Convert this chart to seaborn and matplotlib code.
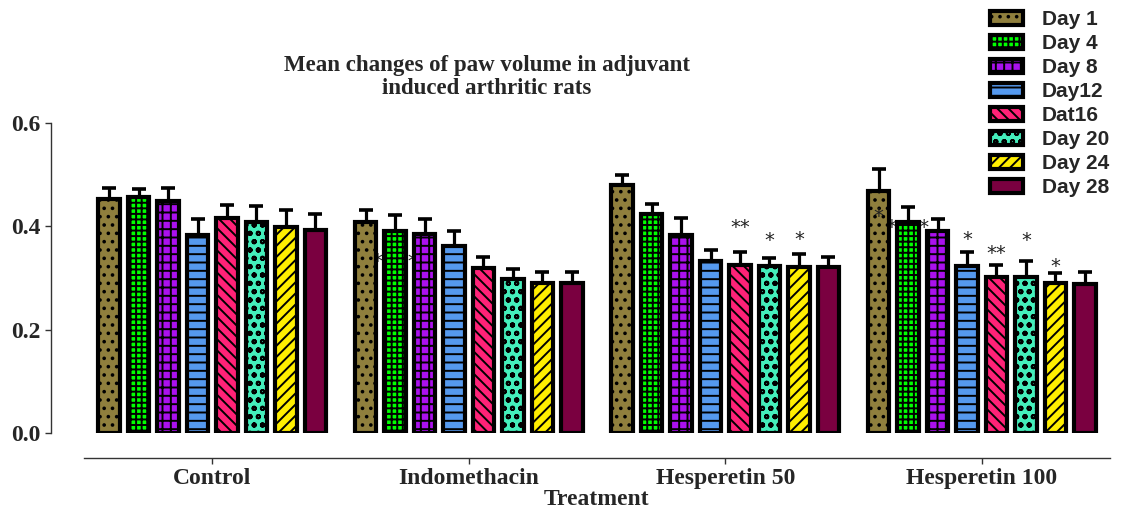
import numpy as np
import pandas as pd
import matplotlib
matplotlib.use('Agg')
import matplotlib.pyplot as plt
from matplotlib.patches import Patch
import seaborn as sns

# Values (mean paw volume, SEM upward only)
treatments = ['Control', 'Indomethacin', 'Hesperetin 50', 'Hesperetin 100']
days = ['Day 1', 'Day 4', 'Day 8', 'Day12', 'Dat16', 'Day 20', 'Day 24', 'Day 28']

control_mean = [0.453, 0.457, 0.449, 0.383, 0.416, 0.408, 0.399, 0.393]
control_sem = [0.022, 0.015, 0.025, 0.031, 0.025, 0.031, 0.033, 0.031]
indo_mean = [0.409, 0.390, 0.385, 0.362, 0.320, 0.299, 0.291, 0.291]
indo_sem = [0.023, 0.032, 0.029, 0.029, 0.021, 0.019, 0.021, 0.020]
hes50_mean = [0.480, 0.423, 0.383, 0.333, 0.325, 0.323, 0.321, 0.321]
hes50_sem = [0.020, 0.021, 0.034, 0.021, 0.025, 0.016, 0.025, 0.020]
hes100_mean = [0.469, 0.409, 0.391, 0.324, 0.301, 0.301, 0.290, 0.288]
hes100_sem = [0.041, 0.029, 0.023, 0.026, 0.024, 0.032, 0.020, 0.024]

# significance marks: (treatment index, day index, text, y, drawn behind bars)
stars = [
    (1, 1, '*    *', 0.331, True),
    (2, 4, '**', 0.397, False),
    (2, 5, '*', 0.373, False),
    (2, 6, '*', 0.375, False),
    (3, 0, '*', 0.419, False),
    (3, 1, '* * *', 0.397, True),
    (3, 3, '*', 0.375, False),
    (3, 4, '**', 0.348, False),
    (3, 5, '*', 0.372, False),
    (3, 6, '*', 0.322, False),
]

colors = ['#8f7f3d', '#00ff00', '#aa11ee', '#5599ee', '#ff2277', '#44eebb', '#ffee00', '#7a0040']
hatches = ['..', '+++', '++', '--', '\\\\\\', 'oo', '///', '']

means = [control_mean, indo_mean, hes50_mean, hes100_mean]
sems = [control_sem, indo_sem, hes50_sem, hes100_sem]

rows = []
for t, m, s in zip(treatments, means, sems):
    for d, v, e in zip(days, m, s):
        rows.append({'Treatment': t, 'Day': d, 'Volume': v, 'SEM': e})
df = pd.DataFrame(rows)

sns.set_style('ticks')
plt.rcParams['hatch.linewidth'] = 1.4
serif = 'Liberation Serif'

fig = plt.figure(figsize=(11.21, 5.14), dpi=100)
ax = fig.add_axes([84 / 1121, 81 / 514, 1026 / 1121, 310 / 514])

sns.barplot(data=df, x='Treatment', y='Volume', hue='Day', order=treatments, hue_order=days,
            palette=colors, saturation=1, width=0.918, gap=0.27, errorbar=None, legend=False,
            edgecolor='black', linewidth=3.0, ax=ax)

bar_containers = list(ax.containers)
centers = {}
for di, cont in enumerate(bar_containers):
    xs = []
    for ti, bar in enumerate(cont):
        bar.set_hatch(hatches[di])
        bar.set_zorder(3)
        xs.append(bar.get_x() + bar.get_width() / 2)
        centers[(ti, di)] = xs[-1]
    sub = df[df['Day'] == days[di]].set_index('Treatment').loc[treatments]
    ax.errorbar(xs, sub['Volume'], yerr=[np.zeros(len(xs)), sub['SEM']], fmt='none',
                ecolor='black', elinewidth=2.3, capsize=5, capthick=2.6, zorder=2)

for ti, di, txt, y, behind in stars:
    ax.text(centers[(ti, di)], y, txt, ha='center', va='center', fontsize=14,
            color='#222222', zorder=1 if behind else 5)

ax.set_xlim(-0.5, 3.5)
ax.set_ylim(0, 0.6)
ax.set_yticks([0.0, 0.2, 0.4, 0.6])
ax.set_yticklabels(['0.0', '0.2', '0.4', '0.6'])
sns.despine(ax=ax)
ax.spines['left'].set_position(('outward', 24))
ax.spines['bottom'].set_position(('outward', 18))
ax.spines['left'].set_bounds(0, 0.6)
for sp in ['left', 'bottom']:
    ax.spines[sp].set_linewidth(1.0)
    ax.spines[sp].set_color('#333333')
ax.tick_params(axis='both', length=4, width=1.0, color='#333333', pad=3)
for lab in ax.get_xticklabels():
    lab.set_fontfamily(serif)
    lab.set_fontweight('bold')
    lab.set_fontsize(17)
for lab in ax.get_yticklabels():
    lab.set_fontfamily(serif)
    lab.set_fontweight('bold')
    lab.set_fontsize(17)
ax.set_xlabel('Treatment', fontfamily=serif, fontweight='bold', fontsize=17, labelpad=0)
ax.set_ylabel('')

fig.text(487 / 1121, 1 - 77 / 514, 'Mean changes of paw volume in adjuvant\ninduced arthritic rats',
         ha='center', va='center', fontfamily=serif, fontweight='bold', fontsize=16.5, linespacing=1.1)

handles = [Patch(facecolor=c, edgecolor='black', hatch=h, linewidth=3.0) for c, h in zip(colors, hatches)]
fig.legend(handles, days, loc='upper left', bbox_to_anchor=(990 / 1121, 1 - 10 / 514),
           frameon=False, borderaxespad=0, borderpad=0, handlelength=1.6, handleheight=0.65,
           handletextpad=0.9, labelspacing=0.24,
           prop={'family': 'Liberation Sans', 'weight': 'bold', 'size': 15})

fig.savefig('out.png', dpi=100)
